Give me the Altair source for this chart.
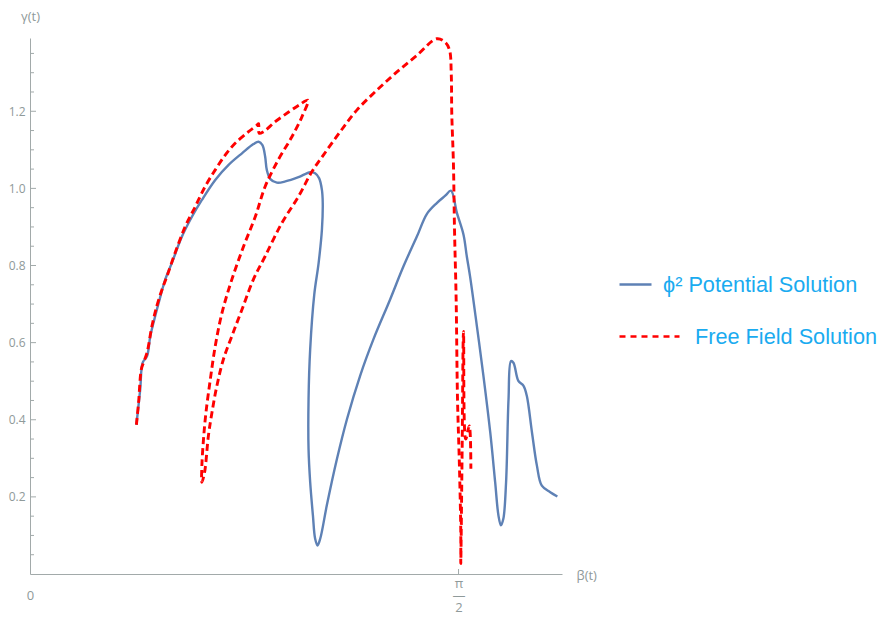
import math
import altair as alt
import pandas as pd

# ---------------- data ----------------
blue_x = [0.390, 0.404, 0.413, 0.429, 0.441, 0.459, 0.478, 0.496, 0.520, 0.557,
          0.594, 0.630, 0.679, 0.728, 0.777, 0.819, 0.838, 0.852, 0.862, 0.868,
          0.881, 0.905, 0.936, 0.984, 1.027, 1.045, 1.060, 1.070, 1.073, 1.070,
          1.058, 1.042, 1.027, 1.021, 1.021, 1.027, 1.037, 1.045, 1.054, 1.064,
          1.088, 1.125, 1.162, 1.210, 1.259, 1.320, 1.369, 1.418, 1.455, 1.491,
          1.522, 1.543, 1.565, 1.589, 1.601, 1.613, 1.638, 1.662, 1.687, 1.705,
          1.717, 1.726, 1.735, 1.745, 1.754, 1.763, 1.772, 1.790, 1.809, 1.821,
          1.840, 1.858, 1.876, 1.907, 1.933]
blue_y = [0.387, 0.479, 0.548, 0.565, 0.617, 0.669, 0.720, 0.764, 0.807, 0.875,
          0.927, 0.970, 1.022, 1.061, 1.091, 1.115, 1.121, 1.112, 1.082, 1.048,
          1.024, 1.015, 1.018, 1.029, 1.042, 1.039, 1.026, 0.996, 0.963, 0.893,
          0.807, 0.725, 0.583, 0.453, 0.324, 0.238, 0.152, 0.092, 0.074, 0.092,
          0.178, 0.298, 0.402, 0.514, 0.609, 0.712, 0.798, 0.875, 0.934, 0.962,
          0.981, 0.994, 0.936, 0.880, 0.824, 0.772, 0.643, 0.514, 0.367, 0.238,
          0.152, 0.126, 0.143, 0.238, 0.453, 0.552, 0.548, 0.501, 0.488, 0.462,
          0.367, 0.281, 0.229, 0.212, 0.201]

red_x = [0.390, 0.398, 0.408, 0.416, 0.429, 0.447, 0.465, 0.484, 0.502, 0.532,
         0.569, 0.606, 0.642, 0.679, 0.716, 0.752, 0.801, 0.832, 0.838, 0.840,
         0.856, 0.899, 0.948, 0.990, 1.019, 0.997, 0.960, 0.910, 0.862, 0.826,
         0.783, 0.740, 0.704, 0.679, 0.661, 0.645, 0.636, 0.630, 0.630, 0.640,
         0.654, 0.667, 0.685, 0.709, 0.740, 0.777, 0.819, 0.862, 0.923, 0.984,
         1.033, 1.076, 1.137, 1.198, 1.272, 1.345, 1.418, 1.491, 1.522, 1.538,
         1.544, 1.546, 1.552, 1.556, 1.562, 1.567, 1.574, 1.579, 1.579, 1.584,
         1.589, 1.597, 1.610, 1.616]
red_y = [0.387, 0.445, 0.531, 0.548, 0.574, 0.643, 0.695, 0.738, 0.772, 0.833,
         0.901, 0.953, 1.005, 1.048, 1.087, 1.117, 1.147, 1.164, 1.168, 1.143,
         1.147, 1.173, 1.198, 1.218, 1.229, 1.186, 1.134, 1.074, 1.005, 0.927,
         0.850, 0.764, 0.678, 0.591, 0.505, 0.419, 0.350, 0.281, 0.238, 0.264,
         0.359, 0.419, 0.488, 0.557, 0.617, 0.686, 0.764, 0.824, 0.910, 0.979,
         1.043, 1.087, 1.147, 1.203, 1.255, 1.302, 1.345, 1.388, 1.379, 1.358,
         1.298, 1.194, 1.065, 0.893, 0.712, 0.453, 0.281, 0.109, 0.027, 0.324,
         0.629, 0.350, 0.384, 0.273]

series_blue = "ϕ² Potential Solution"
series_red = "Free Field Solution"

y_major = [0.2, 0.4, 0.6, 0.8, 1.0, 1.2]
y_minor = [0.05, 0.10, 0.15, 0.25, 0.30, 0.35, 0.45, 0.50, 0.55, 0.65, 0.70,
           0.75, 0.85, 0.90, 0.95, 1.05, 1.10, 1.15, 1.25, 1.30, 1.35]
x_label_values = [0, math.pi / 2]
x_tick_values = [math.pi / 2]

X_MAX = 1.95
Y_MAX = 1.39

# ---------------- style ----------------
W, H = 532, 536
AXIS_COLOR = "#A2AAAA"
LABEL_COLOR = "#8F9A9A"
BLUE = "#5E81B5"
RED = "#FF0000"
LEGEND_TEXT = "#1AABF0"

bdf = pd.DataFrame({"x": blue_x, "y": blue_y, "i": range(len(blue_x)),
                    "series": series_blue})
rdf = pd.DataFrame({"x": red_x, "y": red_y, "i": range(len(red_x)),
                    "series2": series_red})
ymaj_df = pd.DataFrame({"y": y_major})
ymin_df = pd.DataFrame({"y": y_minor})
xt_df = pd.DataFrame({"x": x_tick_values})

xscale = alt.Scale(domain=[0, X_MAX], nice=False, zero=False)
yscale = alt.Scale(domain=[0, Y_MAX], nice=False, zero=False)

xaxis = alt.Axis(
    values=x_label_values,
    labelExpr="datum.value == 0 ? ['', '0'] : ['π', '―', '2']",
    ticks=False, grid=False,
    domainColor=AXIS_COLOR, domainWidth=1,
    labelColor=LABEL_COLOR, labelFont="Open Sans", labelFontSize=13,
    labelPadding=3, labelFlush=False, labelOverlap=False, labelLineHeight=12,
    title="β(t)", titleAngle=0, titleX=W + 14, titleY=1,
    titleAlign="left", titleBaseline="middle", titleFont="Open Sans",
    titleFontSize=13, titleFontWeight="normal", titleColor=LABEL_COLOR,
)
yaxis = alt.Axis(
    values=y_major, format=".1f",
    ticks=False, grid=False,
    domainColor=AXIS_COLOR, domainWidth=1,
    labelColor=LABEL_COLOR, labelFont="Open Sans", labelFontSize=12,
    labelPadding=5,
    title="γ(t)", titleAngle=0, titleX=0, titleY=-22,
    titleAlign="center", titleBaseline="middle", titleFont="Open Sans",
    titleFontSize=13, titleFontWeight="normal", titleColor=LABEL_COLOR,
)

X = alt.X("x:Q", scale=xscale, axis=xaxis)
Y = alt.Y("y:Q", scale=yscale, axis=yaxis)

minor_ticks = alt.Chart(ymin_df).mark_rule(color=AXIS_COLOR, strokeWidth=1).encode(
    y=Y, x=alt.value(0), x2=alt.value(4))
major_ticks = alt.Chart(ymaj_df).mark_rule(color=AXIS_COLOR, strokeWidth=1).encode(
    y=Y, x=alt.value(0), x2=alt.value(6))
x_ticks = alt.Chart(xt_df).mark_rule(color=AXIS_COLOR, strokeWidth=1).encode(
    x=X, y=alt.value(H), y2=alt.value(H - 5))

blue = alt.Chart(bdf).mark_line(strokeWidth=2.4, interpolate="catmull-rom",
                                strokeJoin="round").encode(
    x=X, y=Y, order="i:Q",
    color=alt.Color("series:N",
                    scale=alt.Scale(domain=[series_blue], range=[BLUE]),
                    legend=alt.Legend(
                        title=None, orient="none", legendX=588, legendY=229,
                        symbolType="stroke", symbolSize=1024,
                        symbolStrokeWidth=2.4,
                        labelFont="Liberation Sans", labelFontSize=21.7,
                        labelColor=LEGEND_TEXT, labelOffset=10, labelLimit=400)),
)

red = alt.Chart(rdf).mark_line(strokeWidth=2.9, interpolate="catmull-rom",
                               strokeDash=[7, 4]).encode(
    x=X, y=Y, order="i:Q",
    color=alt.Color("series2:N",
                    scale=alt.Scale(domain=[series_red], range=[RED]),
                    legend=alt.Legend(
                        title=None, orient="none", legendX=588, legendY=267,
                        symbolType="stroke", symbolSize=3600,
                        symbolStrokeWidth=2.4, symbolDash=[6, 5],
                        labelFont="Liberation Sans", labelFontSize=21.7,
                        labelColor=LEGEND_TEXT, labelOffset=14, labelLimit=400)),
)

chart = (
    alt.layer(minor_ticks, major_ticks, x_ticks, blue, red)
    .resolve_scale(color="independent")
    .properties(width=W, height=H,
                padding={"top": 2, "left": 0, "right": 0, "bottom": 14},
                background="white")
    .configure_view(stroke=None)
)

chart.save("out.html", embed_options={"renderer": "svg", "actions": False})
